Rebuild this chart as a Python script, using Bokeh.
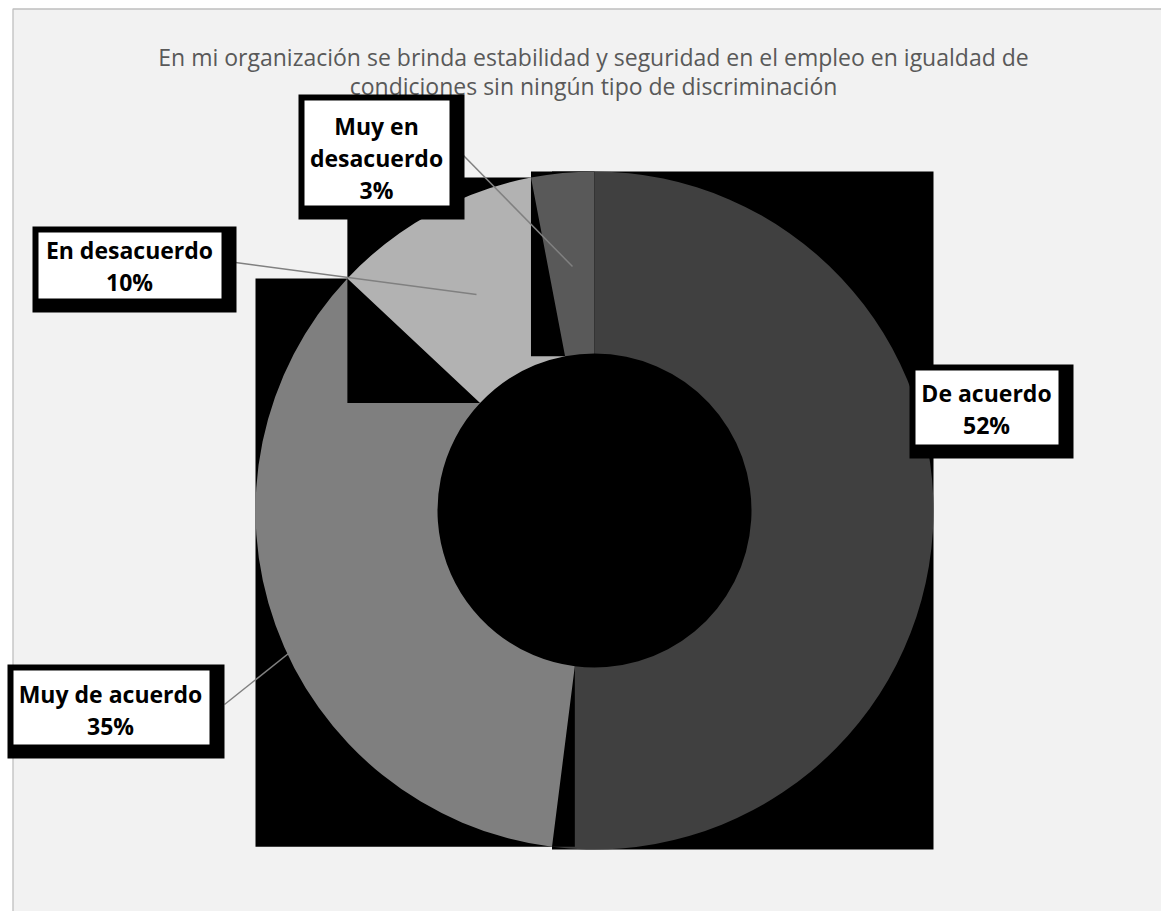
import numpy as np
import textwrap
from bokeh.plotting import figure
from bokeh.models import Range1d
from bokeh.core.properties import value
from bokeh.embed import file_html
from bokeh.resources import INLINE

# ---------------- data ----------------
title_lines = ["En mi organización se brinda estabilidad y seguridad en el empleo en igualdad de",
               "condiciones sin ningún tipo de discriminación"]
categories = ["De acuerdo", "Muy de acuerdo", "En desacuerdo", "Muy en desacuerdo"]
percentages = [52, 35, 10, 3]
colors = ["#404040", "#7F7F7F", "#B2B2B2", "#595959"]

# ---------------- layout (page pixel coordinates) ----------------
W, H = 1161, 911
CX, CY = 594, 510          # ring centre
R_OUT, R_IN = 339, 157

label_layout = {
    "De acuerdo":        dict(box=(915, 370, 1058, 444), cx=986, y0=392, leader=None, wrap=40),
    "Muy de acuerdo":    dict(box=(13, 670, 209, 744), cx=110, y0=693, leader=((224, 704), (293, 649)), wrap=40),
    "En desacuerdo":     dict(box=(38, 232, 221, 298), cx=129, y0=249, leader=((235, 262), (476, 294)), wrap=40),
    "Muy en desacuerdo": dict(box=(304, 100, 449, 205), cx=376, y0=125, leader=((463, 155), (572, 266)), wrap=10),
}
LINE_GAP = 32

def Y(py):
    return -np.asarray(py, dtype=float)

p = figure(width=W, height=H, x_range=Range1d(0, W), y_range=Range1d(-H, 0),
           output_backend="svg", toolbar_location=None, min_border=0,
           x_axis_location=None, y_axis_location=None)
p.grid.visible = False
p.outline_line_color = None
p.background_fill_color = "white"
p.border_fill_color = "white"

# chart area background
p.quad(left=12.5, right=1200, top=-8.5, bottom=-1000, fill_color="#F2F2F2",
       line_color="#BFBFBF", line_width=1.3)

# title
p.text(x=[593, 593], y=Y([56, 85]), text=title_lines, text_font=value("Open Sans"),
       text_font_size="23px", text_color="#595959", text_align="center", text_baseline="middle")

# slices, each with its black bounding box drawn first
vals = np.array(percentages, dtype=float)
cum = np.concatenate([[0], np.cumsum(vals)]) / vals.sum() * 2 * np.pi
for i, cat in enumerate(categories):
    t1, t2 = cum[i], cum[i + 1]
    th = np.linspace(t1, t2, 400)
    xs = np.concatenate([CX + R_OUT * np.sin(th), CX + R_IN * np.sin(th)])
    ys = np.concatenate([CY - R_OUT * np.cos(th), CY - R_IN * np.cos(th)])
    p.quad(left=xs.min(), right=xs.max(), top=-ys.min(), bottom=-ys.max(),
           fill_color="black", line_color=None)
    p.annular_wedge(x=CX, y=-CY, inner_radius=R_IN, outer_radius=R_OUT,
                    start_angle=np.pi / 2 - t2, end_angle=np.pi / 2 - t1,
                    fill_color=colors[i], line_color=None)

# labels
for cat, pct in zip(categories, percentages):
    L = label_layout[cat]
    l, t, r, b = L["box"]
    if L["leader"] is not None:
        (x0, y0), (x1, y1) = L["leader"]
        p.line(x=[x0, x1], y=Y([y0, y1]), line_color="#808080", line_width=1.5)
    p.quad(left=l - 6, right=r + 15, top=-(t - 6), bottom=-(b + 14), fill_color="black", line_color=None)
    p.quad(left=l, right=r, top=-t, bottom=-b, fill_color="white", line_color=None)
    lines = textwrap.wrap(cat, L["wrap"]) + [f"{pct}%"]
    p.text(x=[L["cx"]] * len(lines), y=Y([L["y0"] + k * LINE_GAP for k in range(len(lines))]),
           text=lines, text_font=value("Open Sans"), text_font_style="bold",
           text_font_size="23px", text_color="black", text_align="center", text_baseline="middle")

open("out.html", "w").write(file_html(p, INLINE))
